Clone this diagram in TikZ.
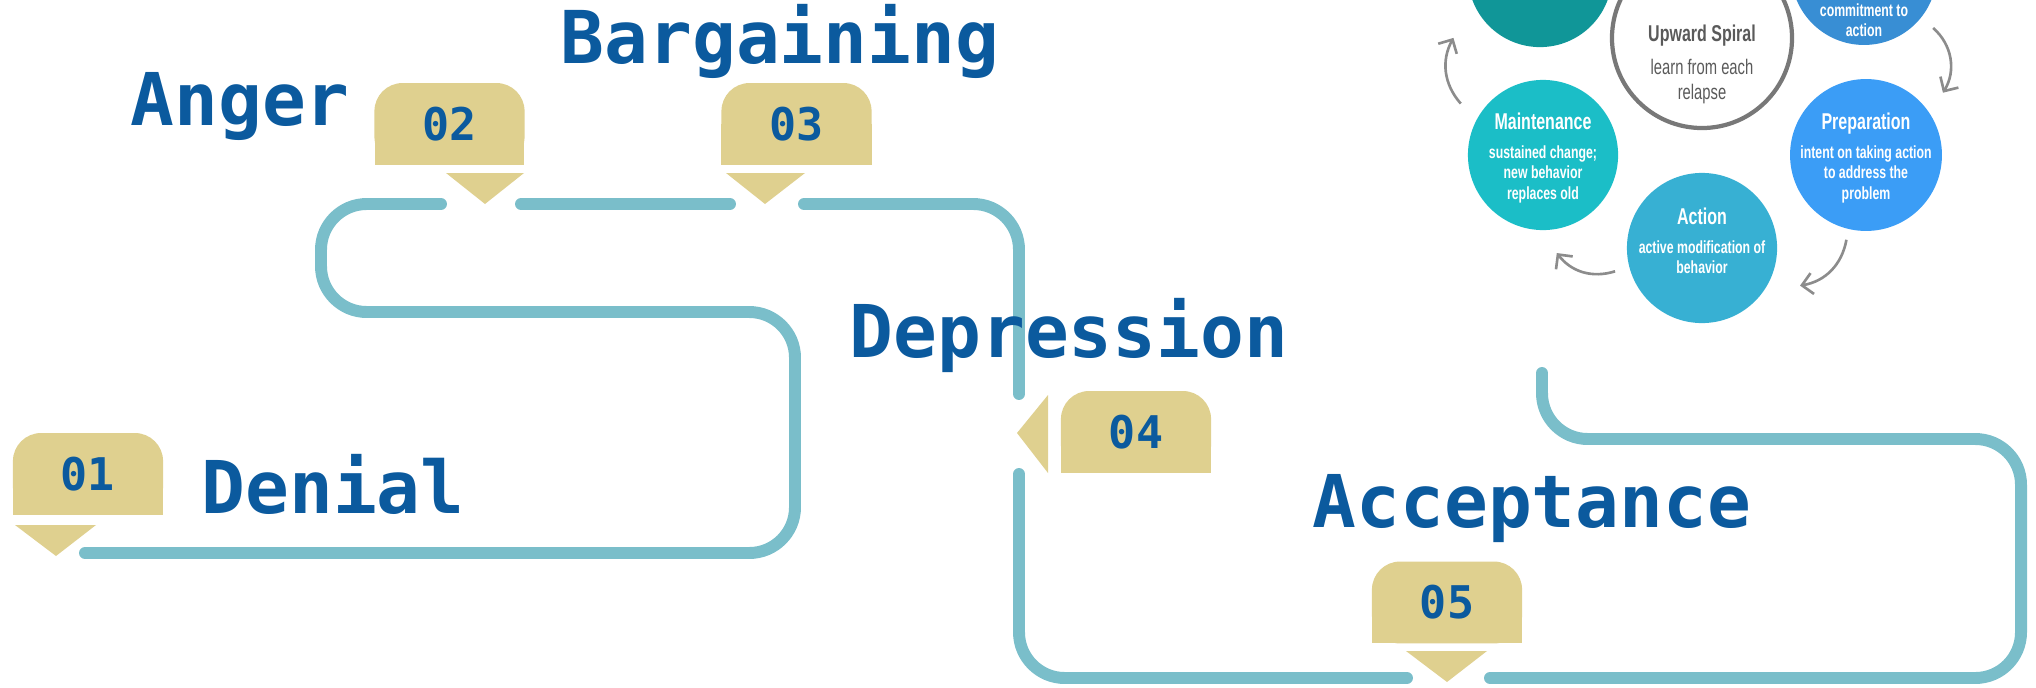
\documentclass[tikz,border=0pt]{standalone}
\usepackage{fontspec}
\newfontfamily\labelfont{DejaVu Sans Mono}
\newfontfamily\stagefont[FakeStretch=0.7]{Liberation Sans}
\usepackage{tikz}
\usetikzlibrary{arrows.meta}
\definecolor{labelblue}{RGB}{11,90,158}
\definecolor{tagtan}{RGB}{223,208,143}
\definecolor{roadteal}{RGB}{122,190,202}
\definecolor{arrowgrey}{RGB}{140,140,140}
\definecolor{ringgrey}{RGB}{120,120,120}
\definecolor{textgrey}{RGB}{90,90,90}
\definecolor{darkteal}{RGB}{16,150,152}
\definecolor{midblue}{RGB}{56,142,212}
\definecolor{turq}{RGB}{27,190,199}
\definecolor{brightblue}{RGB}{59,157,246}
\definecolor{skyblue}{RGB}{55,176,211}

\begin{document}
\begin{tikzpicture}[x=0.01cm,y=0.01cm,>={Straight Barb[length=3pt,width=6pt]},
    road/.style={draw=roadteal,line width=3.4pt,line cap=round,rounded corners=13pt},
    tagbox/.style={fill=tagtan,rounded corners=8pt,minimum width=42.7pt,minimum height=23.3pt,inner sep=0pt,
      text=labelblue,font=\labelfont\bfseries\fontsize{12.8}{12.8}\selectfont},
    stage label/.style={anchor=base west,inner sep=0pt,text=labelblue,
      font=\labelfont\bfseries\fontsize{20.7}{20.7}\selectfont},
    cycle node/.style={circle,inner sep=0pt},
    cycle text/.style={align=center,inner sep=0pt,text=white,font=\stagefont\bfseries\fontsize{5}{5.83}\selectfont},
    cycle arrow/.style={->,draw=arrowgrey,line width=0.75pt}]
  \useasboundingbox (0,0) rectangle (2036,687);
  \clip (0,0) rectangle (2036,687);

  % road
  \draw[road] (85,134) -- (795,134) -- (795,375) -- (321,375) -- (321,483) -- (441,483);
  \draw[road] (521,483) -- (730,483);
  \draw[road] (804,483) -- (1019,483) -- (1019,293);
  \draw[road] (1019,213) -- (1019,9) -- (1407,9);
  \draw[road] (1490,9) -- (2021,9) -- (2021,248) -- (1542,248) -- (1542,314);

  % number tags
  \fill[tagtan] (13,172) rectangle (163,213);
  \node[tagbox] (t01) at (88,213) {01};
  \fill[tagtan] (15,162) -- (96,162) -- (56,131) -- cycle;

  \fill[tagtan] (375,522) rectangle (524,563);
  \node[tagbox] (t02) at (449.5,563) {02};
  \fill[tagtan] (446,514) -- (524,514) -- (485,483) -- cycle;

  \fill[tagtan] (721,522) rectangle (872,563);
  \node[tagbox] (t03) at (796.5,563) {03};
  \fill[tagtan] (726,514) -- (805,514) -- (765,483) -- cycle;

  \fill[tagtan] (1061,214) rectangle (1211,255);
  \node[tagbox] (t04) at (1136,255) {04};
  \fill[tagtan] (1048,292) -- (1048,214) -- (1017,254) -- cycle;

  \fill[tagtan] (1372,44) rectangle (1522,84.5);
  \node[tagbox] (t05) at (1447,84.5) {05};
  \fill[tagtan] (1406,36) -- (1487,36) -- (1447,5) -- cycle;

  % stage names
  \node[stage label] (denial) at (201,174) {Denial};
  \node[stage label] (anger) at (130,562) {Anger};
  \node[stage label] (bargaining) at (560,624) {Bargaining};
  \node[stage label] (depression) at (849,330) {Depression};
  \node[stage label] (acceptance) at (1312,160) {Acceptance};

  % cycle of change
  \node[cycle node,fill=darkteal,minimum size=41pt] (precontemp) at (1540,712) {};
  \node[cycle node,fill=midblue,minimum size=41.5pt] (contemp) at (1864,715) {};
  \node[cycle node,fill=white,draw=ringgrey,line width=1.2pt,minimum size=51.2pt] (spiral) at (1702,649) {};
  \node[cycle node,fill=turq,minimum size=42.7pt] (maint) at (1543,532) {};
  \node[cycle node,fill=brightblue,minimum size=43.2pt] (prep) at (1866,532) {};
  \node[cycle node,fill=skyblue,minimum size=42.7pt] (action) at (1702,439) {};

  \node[cycle text] (contemp text) at (1864,667) {commitment to\\action};
  \node[cycle text,text=textgrey,font=\stagefont\bfseries\fontsize{6.5}{6.5}\selectfont] (spiral title) at (1702,651) {Upward Spiral};
  \node[cycle text,text=textgrey,font=\stagefont\fontsize{6}{7.1}\selectfont] (spiral text) at (1702,605) {learn from each\\relapse};
  \node[cycle text] (maint text) at (1543,529) {{\fontsize{6.5}{6.5}\selectfont Maintenance}\\[2.4pt]sustained change;\\new behavior\\replaces old};
  \node[cycle text] (prep text) at (1866,529) {{\fontsize{6.5}{6.5}\selectfont Preparation}\\[2.4pt]intent on taking action\\to address the\\problem};
  \node[cycle text] (action text) at (1702,446) {{\fontsize{6.5}{6.5}\selectfont Action}\\[2.4pt]active modification of\\behavior};

  \draw[cycle arrow] ([shift={(148:97)}]maint.center) to[bend left=35] ([shift={(216:107)}]precontemp.center);
  \draw[cycle arrow] ([shift={(-39:89)}]contemp.center) to[bend left=40] ([shift={(39:99)}]prep.center);
  \draw[cycle arrow] ([shift={(257:87)}]prep.center) to[bend left=35] ([shift={(-21:105)}]action.center);
  \draw[cycle arrow] ([shift={(195:90)}]action.center) to[bend left=35] ([shift={(-82:99)}]maint.center);
\end{tikzpicture}
\end{document}
